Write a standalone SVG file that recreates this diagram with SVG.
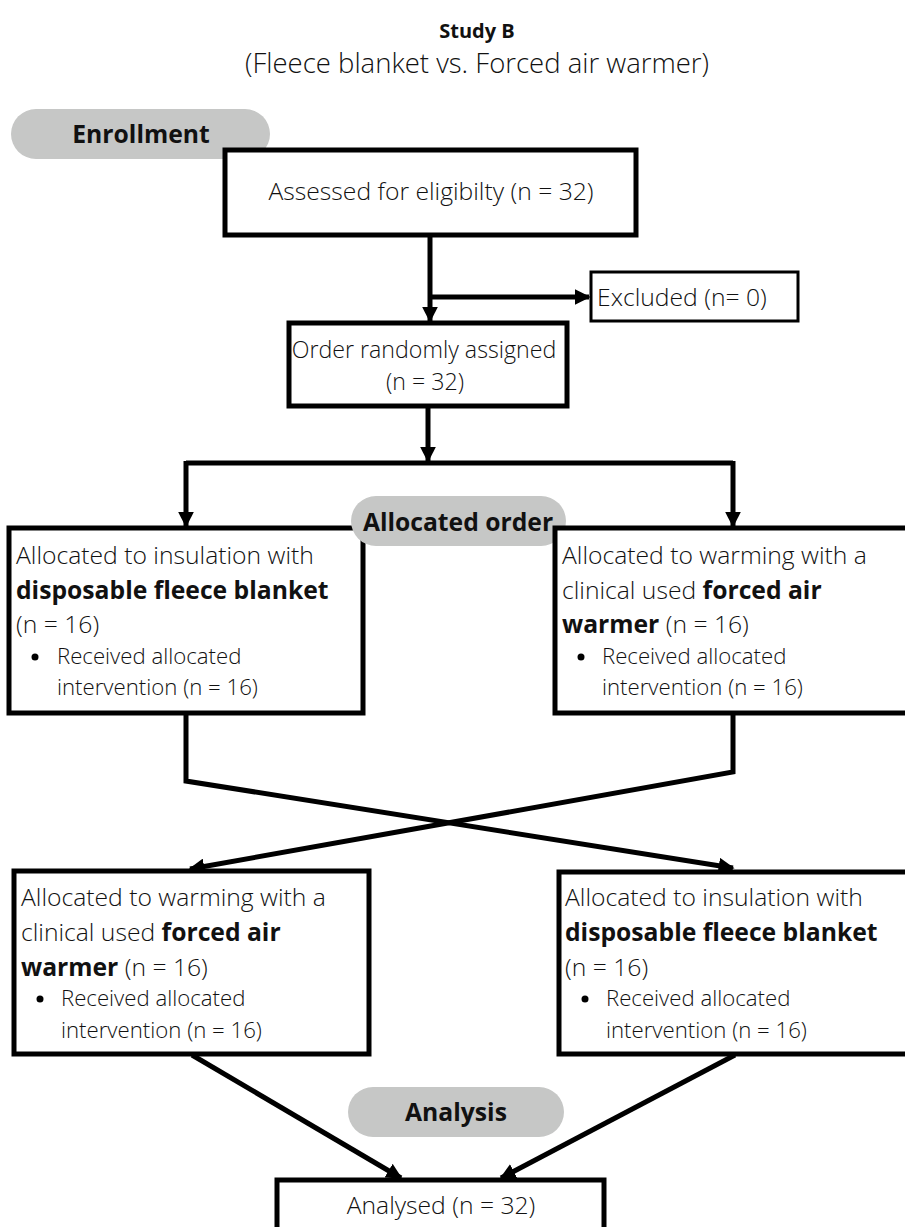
<svg xmlns="http://www.w3.org/2000/svg" width="905" height="1227" viewBox="0 0 905 1227">
<style>
text{font-family:"Open Sans","Liberation Sans",sans-serif;font-size:24.7px;font-weight:300;fill:#111}
.b{font-weight:700}
.c{text-anchor:middle}
.s{font-size:22.2px}
.o{font-size:23.2px}
.box{fill:#fff;stroke:#000;stroke-width:5}
.thin{fill:#fff;stroke:#000;stroke-width:3}
.pill{fill:#c6c7c6}
.ln{fill:none;stroke:#000;stroke-width:5}
</style>
<defs>
<marker id="ah" viewBox="0 0 10 10" refX="9" refY="5" markerWidth="3.2" markerHeight="3.2" orient="auto" markerUnits="strokeWidth">
<path d="M0,0 L10,5 L0,10 Z" fill="#000"/>
</marker>
</defs>
<rect width="905" height="1227" fill="#fff"/>
<g id="title">
<text class="b c" x="477" y="38" style="font-size:20px">Study B</text>
<text class="c" x="477" y="73" style="font-size:27.5px">(Fleece blanket vs. Forced air warmer)</text>
</g>
<g id="connectors">
<path class="ln" d="M430,235 V321" marker-end="url(#ah)"/>
<path class="ln" d="M430,297 H589" marker-end="url(#ah)"/>
<path class="ln" d="M428,406 V461" marker-end="url(#ah)"/>
<path class="ln" d="M186,463 H733"/>
<path class="ln" d="M186,461 V526" marker-end="url(#ah)"/>
<path class="ln" d="M733,461 V526" marker-end="url(#ah)"/>
<path class="ln" d="M186,713 V781 L733,868" marker-end="url(#ah)"/>
<path class="ln" d="M733,713 V772 L190,869" marker-end="url(#ah)"/>
<path class="ln" d="M192,1055 L401,1178" marker-end="url(#ah)"/>
<path class="ln" d="M735,1055 L501,1178" marker-end="url(#ah)"/>
</g>
<g id="enrollment">
<rect class="pill" x="11" y="109" width="259" height="50" rx="25"/>
<text class="b c" x="141" y="143">Enrollment</text>
</g>
<g id="assessed">
<rect class="box" x="225" y="150" width="411" height="85"/>
<text class="c" x="431" y="200">Assessed for eligibilty (n = 32)</text>
</g>
<g id="excluded">
<rect class="thin" x="591" y="272" width="207" height="49"/>
<text x="597" y="306">Excluded (n= 0)</text>
</g>
<g id="order">
<rect class="box" x="289" y="323" width="278" height="83"/>
<text class="c o" x="424" y="358">Order randomly assigned</text>
<text class="c o" x="425" y="390">(n = 32)</text>
</g>
<g id="left1">
<rect class="box" x="9" y="528" width="354" height="185"/>
<text x="16" y="564">Allocated to insulation with</text>
<text class="b" x="16" y="599">disposable fleece blanket</text>
<text x="16" y="633">(n = 16)</text>
<circle cx="35" cy="657" r="3.5" fill="#000"/>
<text class="s" x="57" y="664">Received allocated</text>
<text class="s" x="57" y="695">intervention (n = 16)</text>
</g>
<g id="allocated-order">
<rect class="pill" x="351" y="496" width="215" height="50" rx="25"/>
<text class="b c" x="458" y="531">Allocated order</text>
</g>
<g id="right1">
<rect class="box" x="555" y="528" width="360" height="185"/>
<text x="562" y="564">Allocated to warming with a</text>
<text x="562" y="599">clinical used <tspan class="b">forced air</tspan></text>
<text x="562" y="633"><tspan class="b">warmer</tspan> (n = 16)</text>
<circle cx="581" cy="657" r="3.5" fill="#000"/>
<text class="s" x="602" y="664">Received allocated</text>
<text class="s" x="602" y="695">intervention (n = 16)</text>
</g>
<g id="left2">
<rect class="box" x="14" y="871" width="355" height="183"/>
<text x="21" y="906">Allocated to warming with a</text>
<text x="21" y="941">clinical used <tspan class="b">forced air</tspan></text>
<text x="21" y="976"><tspan class="b">warmer</tspan> (n = 16)</text>
<circle cx="40" cy="999" r="3.5" fill="#000"/>
<text class="s" x="61" y="1006">Received allocated</text>
<text class="s" x="61" y="1038">intervention (n = 16)</text>
</g>
<g id="right2">
<rect class="box" x="559" y="872" width="356" height="182"/>
<text x="565" y="906">Allocated to insulation with</text>
<text class="b" x="565" y="941">disposable fleece blanket</text>
<text x="565" y="976">(n = 16)</text>
<circle cx="585" cy="999" r="3.5" fill="#000"/>
<text class="s" x="606" y="1006">Received allocated</text>
<text class="s" x="606" y="1038">intervention (n = 16)</text>
</g>
<g id="analysis">
<rect class="pill" x="348" y="1087" width="216" height="50" rx="25"/>
<text class="b c" x="456" y="1121">Analysis</text>
</g>
<g id="analysed">
<rect class="box" x="277" y="1180" width="327" height="60"/>
<text class="c" x="441" y="1214">Analysed (n = 32)</text>
</g>
</svg>
